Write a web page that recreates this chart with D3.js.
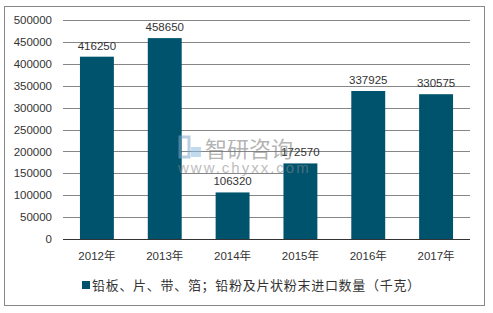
<!DOCTYPE html>
<html>
<head>
<meta charset="utf-8">
<style> body { margin: 0; background: #fff; } </style>
<script src="https://d3js.org/d3.v7.min.js"></script>
</head>
<body>
<svg id="chart" width="493" height="313"></svg>
<script>
    var years = ['2012年', '2013年', '2014年', '2015年', '2016年', '2017年']
    var values = [416250, 458650, 106320, 172570, 337925, 330575]
    var yTicks = [0, 50000, 100000, 150000, 200000, 250000, 300000, 350000, 400000, 450000, 500000]
    var seriesName = '铅板、片、带、箔；铅粉及片状粉末进口数量（千克）'

    let font = "'Liberation Sans', Arial, 'Noto Sans CJK SC', sans-serif"
    let barColor = '#00536d'

    let marginLeft = 63
    let marginRight = 23
    let marginTop = 20
    let plotBottom = 239

    const svg = d3.select('#chart')

    // outer frame
    svg.append('rect')
        .attr('x', 4.5).attr('y', 6.5)
        .attr('width', 480).attr('height', 299)
        .attr('fill', 'none')
        .attr('stroke', '#888')
        .attr('stroke-width', 1)

    let x = d3.scaleBand()
        .domain(years)
        .range([marginLeft, 493 - marginRight])
        .paddingInner(0.5)
        .paddingOuter(0.25)

    let y = d3.scaleLinear()
        .domain([0, 500000])
        .range([plotBottom, marginTop])

    // grid lines
    svg.append('g')
        .selectAll('line')
        .data(yTicks.slice(1))
        .join('line')
            .attr('x1', marginLeft)
            .attr('x2', 493 - marginRight)
            .attr('y1', d => Math.round(y(d)) + 0.5)
            .attr('y2', d => Math.round(y(d)) + 0.5)
            .attr('stroke', '#868686')
            .attr('stroke-width', 1)

    // y axis labels
    var yAxis = svg.append('g')
        .attr('transform', `translate(${marginLeft},0)`)
        .call(d3.axisLeft(y).tickValues(yTicks).tickSize(0).tickPadding(11).tickFormat(d3.format('d')))
    yAxis.select('.domain').remove()
    yAxis.selectAll('text')
        .style('font-family', font)
        .style('font-size', '11.5px')
        .style('fill', '#333')

    // bars
    svg.append('g')
        .selectAll('rect')
        .data(values)
        .join('rect')
            .attr('x', (d, i) => x(years[i]))
            .attr('y', d => y(d))
            .attr('width', x.bandwidth())
            .attr('height', d => y(0) - y(d))
            .attr('fill', barColor)

    // value labels
    svg.append('g')
        .selectAll('text')
        .data(values)
        .join('text')
            .attr('x', (d, i) => x(years[i]) + x.bandwidth() / 2)
            .attr('y', d => y(d) - 7)
            .attr('text-anchor', 'middle')
            .style('font-family', font)
            .style('font-size', '11.5px')
            .style('fill', '#333')
            .text(d => d)

    // watermark
    var wm = svg.append('g').attr('opacity', 0.55)
    wm.append('rect').attr('x', 180).attr('y', 137).attr('width', 9).attr('height', 20)
        .attr('fill', 'none').attr('stroke', '#7fa9c9').attr('stroke-width', 3)
    wm.append('rect').attr('x', 191).attr('y', 147).attr('width', 10).attr('height', 10)
        .attr('fill', '#8fbde0')
    wm.append('text').attr('x', 205).attr('y', 157)
        .style('font-family', "'Noto Sans CJK SC', sans-serif")
        .style('font-size', '22px').style('fill', '#777')
        .text('智研咨询')
    wm.append('text').attr('x', 178).attr('y', 173)
        .style('font-family', font)
        .style('font-size', '15px').style('fill', '#888')
        .style('letter-spacing', '2px')
        .text('www.chyxx.com')

    // x axis line
    svg.append('line')
        .attr('x1', marginLeft).attr('x2', 493 - marginRight)
        .attr('y1', plotBottom + 0.5).attr('y2', plotBottom + 0.5)
        .attr('stroke', '#333').attr('stroke-width', 1)

    // x labels
    svg.append('g')
        .selectAll('text')
        .data(years)
        .join('text')
            .attr('x', d => x(d) + x.bandwidth() / 2)
            .attr('y', 260)
            .attr('text-anchor', 'middle')
            .style('font-family', font)
            .style('font-size', '11.5px')
            .style('fill', '#333')
            .text(d => d)

    // legend
    svg.append('rect')
        .attr('x', 82).attr('y', 281)
        .attr('width', 8).attr('height', 8)
        .attr('fill', barColor)
    svg.append('text')
        .attr('x', 92).attr('y', 290)
        .style('font-family', "'Noto Sans CJK SC', sans-serif")
        .style('font-size', '13px')
        .style('letter-spacing', '0.7px')
        .style('fill', '#333')
        .text(seriesName)
</script>
</body>
</html>
